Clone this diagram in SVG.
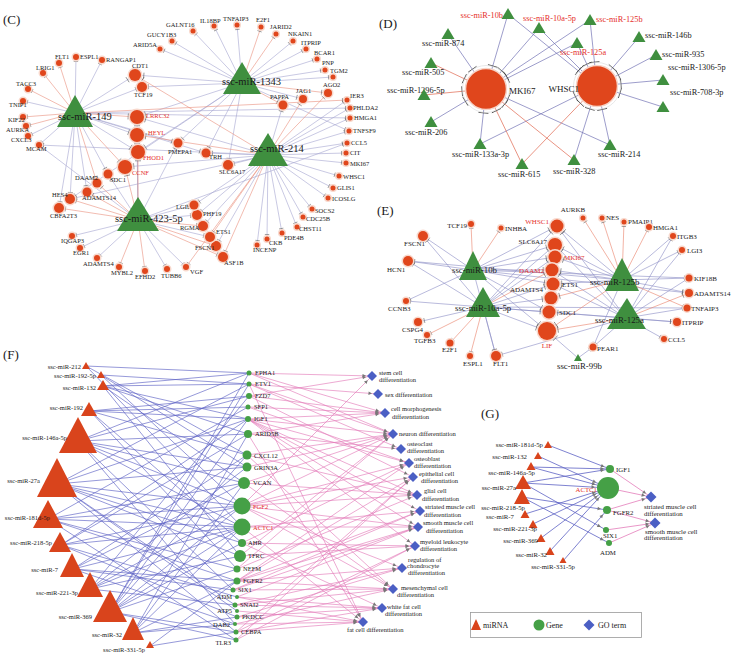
<svg xmlns="http://www.w3.org/2000/svg" width="734" height="658" viewBox="0 0 734 658">
<defs>
<style>
text{font-family:"Liberation Serif","Times New Roman",serif;fill:#1a1a1a}
.pl{font-size:13px}
.c6{font-size:6.5px}
.c10{font-size:10.5px}
.d8{font-size:8.3px}
.d9{font-size:9px}
.e7{font-size:7px}
.e9{font-size:8.8px}
.f6{font-size:6.5px}
.g7{font-size:6.8px}
.lg{font-size:8px}
.rd{fill:#e5302a}
.end{text-anchor:end}
.mid{text-anchor:middle}
.tri{fill:#3f8f3f}
.og circle{fill:#e0461c;stroke:#f8d8cc;stroke-width:3;paint-order:stroke}
.ftri{fill:#d9441c}
.gc circle{fill:#45a046}
.go{fill:#4b5fc4}
.a{marker-end:url(#m3)}
.b{marker-end:url(#m4)}
.c{marker-end:url(#m6)}
.d{marker-end:url(#m9)}
.e{marker-end:url(#m19)}
.pk path{marker-end:url(#fa)}
.gs{marker-end:url(#gs)}
.gl{marker-end:url(#gl)}
</style>
<marker id="m3" markerUnits="userSpaceOnUse" orient="auto" refX="4.5" refY="0" markerWidth="2" markerHeight="6" style="overflow:visible"><path d="M0,-2.2V2.2" stroke="#666" stroke-width=".6" fill="none"/></marker>
<marker id="m4" markerUnits="userSpaceOnUse" orient="auto" refX="6.5" refY="0" markerWidth="2" markerHeight="6" style="overflow:visible"><path d="M0,-2.5V2.5" stroke="#666" stroke-width=".6" fill="none"/></marker>
<marker id="m6" markerUnits="userSpaceOnUse" orient="auto" refX="8.8" refY="0" markerWidth="2" markerHeight="6" style="overflow:visible"><path d="M0,-3V3" stroke="#555" stroke-width=".6" fill="none"/></marker>
<marker id="m9" markerUnits="userSpaceOnUse" orient="auto" refX="11" refY="0" markerWidth="2" markerHeight="6" style="overflow:visible"><path d="M0,-3.5V3.5" stroke="#555" stroke-width=".6" fill="none"/></marker>
<marker id="m19" markerUnits="userSpaceOnUse" orient="auto" refX="24" refY="0" markerWidth="2" markerHeight="10" style="overflow:visible"><path d="M0,-5V5" stroke="#444" stroke-width=".8" fill="none"/></marker>
<marker id="fa" markerUnits="userSpaceOnUse" orient="auto" refX="6" refY="0" markerWidth="4" markerHeight="4" style="overflow:visible"><path d="M-3.5,-1.8L0,0L-3.5,1.8z" fill="#777"/></marker>
<marker id="gs" markerUnits="userSpaceOnUse" orient="auto" refX="6" refY="0" markerWidth="4" markerHeight="4" style="overflow:visible"><path d="M-3.5,-1.8L0,0L-3.5,1.8z" fill="#777"/></marker>
<marker id="gl" markerUnits="userSpaceOnUse" orient="auto" refX="13" refY="0" markerWidth="4" markerHeight="4" style="overflow:visible"><path d="M-3.5,-1.8L0,0L-3.5,1.8z" fill="#777"/></marker>
</defs>
<rect width="734" height="658" fill="#fff"/>

<!-- ================= PANEL C ================= -->
<text class="pl" x="3" y="24">(C)</text>
<g id="c-connectors" fill="none" stroke-width=".6">
<g stroke="#a4a4d0">
<path class="a" d="M242 83L193 31"/><path class="a" d="M242 83L172 41"/><path class="a" d="M242 83L160 49"/><path class="a" d="M242 83L214 26"/><path class="a" d="M242 83L237 25"/><path class="a" d="M242 83L293 41"/><path class="a" d="M242 83L306 49"/><path class="a" d="M242 83L317 59"/><path class="a" d="M242 83L325 70"/><path class="a" d="M242 83L333 77"/><path class="b" d="M242 83L303 99"/><path class="b" d="M242 83L228 165"/><path class="b" d="M242 83L206 153"/><path class="b" d="M242 83L178 143"/><path class="c" d="M242 83L135 75"/><path class="b" d="M242 83L142 87"/><path class="c" d="M242 83L137 117"/><path class="c" d="M242 83L138 152"/><path class="a" d="M242 83L349 131"/><path class="b" d="M242 83L70 199"/>
<path class="b" d="M268 155L283 105"/><path class="a" d="M268 155L347 100"/><path class="a" d="M268 155L350 108"/><path class="a" d="M268 155L350 118"/><path class="a" d="M268 155L349 131"/><path class="a" d="M268 155L347 143"/><path class="a" d="M268 155L346 153"/><path class="a" d="M268 155L346 163"/><path class="a" d="M268 155L339 176"/><path class="a" d="M268 155L333 188"/><path class="a" d="M268 155L328 198"/><path class="a" d="M268 155L312 209"/><path class="a" d="M268 155L303 217"/><path class="a" d="M268 155L297 227"/><path class="a" d="M268 155L282 233"/><path class="a" d="M268 155L267 239"/><path class="a" d="M268 155L257 245"/><path class="b" d="M268 155L216 246"/><path class="b" d="M268 155L203 226"/><path class="b" d="M268 155L197 215"/><path class="b" d="M268 155L194 205"/><path class="b" d="M268 155L228 165"/><path class="b" d="M268 155L206 153"/><path class="c" d="M268 155L137 117"/><path class="c" d="M268 155L125 167"/><path class="b" d="M268 155L70 199"/><path class="a" d="M268 155L39 145"/>
<path class="a" d="M75 113L102 60"/><path class="a" d="M75 113L76 57"/><path class="a" d="M75 113L23 101"/><path class="a" d="M75 113L28 136"/><path class="a" d="M75 113L39 145"/><path class="c" d="M75 113L135 75"/><path class="b" d="M75 113L142 87"/><path class="c" d="M75 113L137 135"/><path class="c" d="M75 113L138 152"/><path class="b" d="M75 113L108 174"/><path class="b" d="M75 113L87 192"/><path class="b" d="M75 113L70 199"/><path class="b" d="M75 113L59 208"/><path class="b" d="M75 113L206 153"/><path class="b" d="M75 113L178 143"/><path class="a" d="M75 113L350 108"/><path class="a" d="M75 113L350 118"/>
<path class="a" d="M138 220L72 236"/><path class="a" d="M138 220L80 248"/><path class="a" d="M138 220L97 258"/><path class="a" d="M138 220L167 269"/><path class="a" d="M138 220L186 267"/><path class="b" d="M138 220L108 174"/><path class="c" d="M138 220L137 135"/><path class="b" d="M138 220L194 205"/><path class="b" d="M138 220L197 215"/><path class="b" d="M138 220L210 237"/><path class="b" d="M138 220L178 143"/><path class="a" d="M138 220L347 143"/><path class="a" d="M138 220L39 145"/><path class="c" d="M138 220L137 117"/>
</g>
<g stroke="#ea8f7c">
<path class="a" d="M242 83L261 27"/><path class="a" d="M242 83L276 34"/><path class="b" d="M242 83L328 93"/><path class="b" d="M242 83L283 105"/>
<path class="b" d="M268 155L328 93"/><path class="b" d="M268 155L303 99"/><path class="b" d="M268 155L223 257"/><path class="b" d="M268 155L210 237"/><path class="c" d="M268 155L135 75"/><path class="c" d="M268 155L137 135"/><path class="a" d="M268 155L186 267"/>
<path class="a" d="M75 113L59 63"/><path class="a" d="M75 113L43 73"/><path class="a" d="M75 113L28 89"/><path class="a" d="M75 113L23 117"/><path class="a" d="M75 113L26 126"/><path class="c" d="M75 113L137 117"/><path class="c" d="M75 113L125 167"/><path class="b" d="M75 113L97 183"/><path class="a" d="M75 113L347 100"/>
<path class="a" d="M138 220L119 267"/><path class="a" d="M138 220L145 271"/><path class="b" d="M138 220L59 208"/><path class="b" d="M138 220L70 199"/><path class="b" d="M138 220L87 192"/><path class="b" d="M138 220L97 183"/><path class="c" d="M138 220L125 167"/><path class="c" d="M138 220L138 152"/><path class="b" d="M138 220L203 226"/><path class="b" d="M138 220L216 246"/><path class="b" d="M138 220L223 257"/>
</g>
</g>
<g id="c-genes" class="og">
<g id="c-GALNT16"><circle cx="193" cy="31" r="2.5"/><text class="c6" x="166" y="27">GALNT16</text></g>
<g id="c-GUCY1B3"><circle cx="172" cy="41" r="2.5"/><text class="c6" x="147" y="37">GUCY1B3</text></g>
<g id="c-ARID5A"><circle cx="160" cy="49" r="2.5"/><text class="c6" x="133" y="47">ARID5A</text></g>
<g id="c-IL18BP"><circle cx="214" cy="26" r="2.5"/><text class="c6" x="200" y="23">IL18BP</text></g>
<g id="c-TNFAIP3"><circle cx="237" cy="25" r="2.5"/><text class="c6" x="223" y="21">TNFAIP3</text></g>
<g id="c-E2F1"><circle cx="261" cy="27" r="2.5"/><text class="c6" x="256" y="22">E2F1</text></g>
<g id="c-JARID2"><circle cx="276" cy="34" r="2.5"/><text class="c6" x="270" y="29">JARID2</text></g>
<g id="c-NKAIN1"><circle cx="293" cy="41" r="2.5"/><text class="c6" x="288" y="36">NKAIN1</text></g>
<g id="c-ITPRIP"><circle cx="306" cy="49" r="2.5"/><text class="c6" x="301" y="45">ITPRIP</text></g>
<g id="c-BCAR1"><circle cx="317" cy="59" r="2.5"/><text class="c6" x="314" y="55">BCAR1</text></g>
<g id="c-PNP"><circle cx="325" cy="70" r="2.5"/><text class="c6" x="322" y="65">PNP</text></g>
<g id="c-TGM2"><circle cx="333" cy="77" r="2.5"/><text class="c6" x="330" y="73">TGM2</text></g>
<g id="c-AGO2"><circle cx="328" cy="93" r="4"/><text class="c6" x="323" y="87">AGO2</text></g>
<g id="c-JAG1"><circle cx="303" cy="99" r="4"/><text class="c6" x="296" y="93">JAG1</text></g>
<g id="c-PAPPA"><circle cx="283" cy="105" r="4.5"/><text class="c6" x="270" y="99">PAPPA</text></g>
<g id="c-IER3"><circle cx="347" cy="100" r="2.5"/><text class="c6" x="350" y="98">IER3</text></g>
<g id="c-PHLDA2"><circle cx="350" cy="108" r="2.5"/><text class="c6" x="353" y="110">PHLDA2</text></g>
<g id="c-HMGA1"><circle cx="350" cy="118" r="2.5"/><text class="c6" x="354" y="120">HMGA1</text></g>
<g id="c-TNFSF9"><circle cx="349" cy="131" r="2.5"/><text class="c6" x="353" y="133">TNFSF9</text></g>
<g id="c-CCL5"><circle cx="347" cy="143" r="2.5"/><text class="c6" x="351" y="145">CCL5</text></g>
<g id="c-CIT"><circle cx="346" cy="153" r="2.5"/><text class="c6" x="350" y="155">CIT</text></g>
<g id="c-MKI67"><circle cx="346" cy="163" r="2.5"/><text class="c6" x="350" y="166">MKI67</text></g>
<g id="c-WHSC1"><circle cx="339" cy="176" r="2.5"/><text class="c6" x="343" y="179">WHSC1</text></g>
<g id="c-GLIS1"><circle cx="333" cy="188" r="2.5"/><text class="c6" x="337" y="190">GLIS1</text></g>
<g id="c-ICOSLG"><circle cx="328" cy="198" r="2.5"/><text class="c6" x="332" y="201">ICOSLG</text></g>
<g id="c-SOCS2"><circle cx="312" cy="209" r="2.5"/><text class="c6" x="315" y="213">SOCS2</text></g>
<g id="c-CDC25B"><circle cx="303" cy="217" r="2.5"/><text class="c6" x="306" y="221">CDC25B</text></g>
<g id="c-CHST11"><circle cx="297" cy="227" r="2.5"/><text class="c6" x="299" y="231">CHST11</text></g>
<g id="c-PDE4B"><circle cx="282" cy="233" r="2.5"/><text class="c6" x="284" y="240">PDE4B</text></g>
<g id="c-CKB"><circle cx="267" cy="239" r="2.5"/><text class="c6" x="269" y="245">CKB</text></g>
<g id="c-INCENP"><circle cx="257" cy="245" r="2.5"/><text class="c6" x="253" y="252">INCENP</text></g>
<g id="c-ASF1B"><circle cx="223" cy="257" r="5"/><text class="c6" x="224" y="265">ASF1B</text></g>
<g id="c-FSCN1"><circle cx="216" cy="246" r="5"/><text class="c6" x="195" y="250">FSCN1</text></g>
<g id="c-ETS1"><circle cx="210" cy="237" r="5"/><text class="c6" x="216" y="234">ETS1</text></g>
<g id="c-RGMA"><circle cx="203" cy="226" r="5"/><text class="c6" x="180" y="230">RGMA</text></g>
<g id="c-PHF19"><circle cx="197" cy="215" r="5"/><text class="c6" x="203" y="216">PHF19</text></g>
<g id="c-LGI3"><text class="c6" x="176" y="209">LGI3</text><circle cx="194" cy="205" r="4.5"/></g>
<g id="c-SLC6A17"><circle cx="228" cy="165" r="5"/><text class="c6" x="219" y="174">SLC6A17</text></g>
<g id="c-TRH"><circle cx="206" cy="153" r="4.5"/><text class="c6" x="209" y="159">TRH</text></g>
<g id="c-PMEPA1"><circle cx="178" cy="143" r="4.5"/><text class="c6" x="168" y="154">PMEPA1</text></g>
<g id="c-RANGAP1"><circle cx="102" cy="60" r="3"/><text class="c6" x="106" y="62">RANGAP1</text></g>
<g id="c-ESPL1"><circle cx="76" cy="57" r="3"/><text class="c6" x="80" y="59">ESPL1</text></g>
<g id="c-FLT1"><circle cx="59" cy="63" r="3"/><text class="c6" x="55" y="59">FLT1</text></g>
<g id="c-LRIG1"><circle cx="43" cy="73" r="3"/><text class="c6" x="36" y="70">LRIG1</text></g>
<g id="c-TACC3"><circle cx="28" cy="89" r="3"/><text class="c6" x="16" y="86">TACC3</text></g>
<g id="c-TNIP1"><circle cx="23" cy="101" r="3"/><text class="c6" x="9" y="107">TNIP1</text></g>
<g id="c-KIF22"><circle cx="23" cy="117" r="3"/><text class="c6" x="8" y="122">KIF22</text></g>
<g id="c-AURKA"><circle cx="26" cy="126" r="3"/><text class="c6" x="6" y="132">AURKA</text></g>
<g id="c-CXCL3"><circle cx="28" cy="136" r="3"/><text class="c6" x="11" y="142">CXCL3</text></g>
<g id="c-MCAM"><circle cx="39" cy="145" r="3"/><text class="c6" x="26" y="151">MCAM</text></g>
<g id="c-CDT1"><circle cx="135" cy="75" r="6"/><text class="c6" x="132" y="68">CDT1</text></g>
<g id="c-TCF19"><circle cx="142" cy="87" r="5"/><text class="c6" x="134" y="97">TCF19</text></g>
<g id="c-LRRC32"><circle cx="137" cy="117" r="7"/><text class="c6 rd" x="146" y="118">LRRC32</text></g>
<g id="c-HEYL"><circle cx="137" cy="135" r="7"/><text class="c6 rd" x="148" y="135">HEYL</text></g>
<g id="c-FHOD1"><circle cx="138" cy="152" r="7"/><text class="c6 rd" x="143" y="160">FHOD1</text></g>
<g id="c-CCNF"><circle cx="125" cy="167" r="7"/><text class="c6 rd" x="132" y="175">CCNF</text></g>
<g id="c-SDC1"><circle cx="108" cy="174" r="4.5"/><text class="c6" x="110" y="182">SDC1</text></g>
<g id="c-DAAM2"><circle cx="97" cy="183" r="4.5"/><text class="c6" x="75" y="180">DAAM2</text></g>
<g id="c-ADAMTS14"><circle cx="87" cy="192" r="4.5"/><text class="c6" x="82" y="200">ADAMTS14</text></g>
<g id="c-HES4"><circle cx="70" cy="199" r="5"/><text class="c6" x="52" y="197">HES4</text></g>
<g id="c-CBFA2T3"><circle cx="59" cy="208" r="5"/><text class="c6" x="50" y="218">CBFA2T3</text></g>
<g id="c-IQGAP3"><circle cx="72" cy="236" r="3"/><text class="c6" x="61" y="243">IQGAP3</text></g>
<g id="c-EGR1"><circle cx="80" cy="248" r="3"/><text class="c6" x="73" y="255">EGR1</text></g>
<g id="c-ADAMTS4"><circle cx="97" cy="258" r="3"/><text class="c6" x="83" y="266">ADAMTS4</text></g>
<g id="c-MYBL2"><circle cx="119" cy="267" r="3"/><text class="c6" x="111" y="275">MYBL2</text></g>
<g id="c-EFHD2"><circle cx="145" cy="271" r="3"/><text class="c6" x="135" y="279">EFHD2</text></g>
<g id="c-TUBB6"><circle cx="167" cy="269" r="3"/><text class="c6" x="161" y="278">TUBB6</text></g>
<g id="c-VGF"><circle cx="186" cy="267" r="3"/><text class="c6" x="190" y="274">VGF</text></g>
</g>
<g id="c-mir149"><polygon class="tri" points="75,95 57,127 93,127"/><text class="c10" x="58" y="120">ssc-miR-149</text></g>
<g id="c-mir1343"><polygon class="tri" points="242,62 223,94 261,94"/><text class="c10" x="222" y="85">ssc-miR-1343</text></g>
<g id="c-mir214"><polygon class="tri" points="268,133 248,166 288,166"/><text class="c10" x="250" y="152">ssc-miR-214</text></g>
<g id="c-mir423"><polygon class="tri" points="138,197 117,231 159,231"/><text class="c10" x="115" y="222">ssc-miR-423-5p</text></g>

<!-- ================= PANEL D ================= -->
<text class="pl" x="379" y="28">(D)</text>
<g id="d-connectors" fill="none" stroke-width=".7">
<g stroke="#7272b4">
<path class="e" d="M508 14L486 89"/><path class="e" d="M508 14L597 86"/>
<path class="e" d="M539 28L486 89"/><path class="e" d="M539 28L597 86"/>
<path class="e" d="M590 20L486 89"/><path class="e" d="M590 20L597 86"/>
<path class="e" d="M577 43L486 89"/><path class="e" d="M577 43L597 86"/>
<path class="e" d="M639 37L597 86"/><path class="e" d="M656 55L597 86"/><path class="e" d="M663 80L597 86"/><path class="e" d="M663 107L597 86"/>
<path class="e" d="M448 34L486 89"/><path class="e" d="M431 122L486 89"/>
<path class="e" d="M480 144L486 89"/><path class="e" d="M480 144L597 86"/>
<path class="e" d="M574 160L597 86"/>
<path class="e" d="M610 145L486 89"/><path class="e" d="M610 145L597 86"/>
</g>
<g stroke="#e0664e">
<path class="e" d="M431 63L486 89"/><path class="e" d="M424 95L486 89"/>
<path class="e" d="M522 164L486 89"/><path class="e" d="M522 164L597 86"/>
<path class="e" d="M574 160L486 89"/>
</g>
</g>
<g id="d-MKI67"><circle cx="486" cy="89" r="23.5" fill="none" stroke="#d8d8d8" stroke-width=".6"/><circle cx="486" cy="89" r="20.5" fill="#e0461c" stroke="#f6d4c8" stroke-width="1.5"/><text class="d9" x="509" y="94">MKI67</text></g>
<g id="d-WHSC1"><circle cx="597" cy="86" r="23.5" fill="none" stroke="#d8d8d8" stroke-width=".6"/><circle cx="597" cy="86" r="20.5" fill="#e0461c" stroke="#f6d4c8" stroke-width="1.5"/><text class="d9 end" x="579" y="92">WHSC1</text></g>
<g id="d-mir10b"><text class="d8 rd end" x="503" y="18">ssc-miR-10b</text><polygon class="tri" points="508,8 501.5,19 514.5,19"/></g>
<g id="d-mir10a5p"><polygon class="tri" points="539,22 532.5,33 545.5,33"/><text class="d8 rd" x="523" y="21">ssc-miR-10a-5p</text></g>
<g id="d-mir125b"><polygon class="tri" points="590,14 583.5,25 596.5,25"/><text class="d8 rd" x="596" y="22">ssc-miR-125b</text></g>
<g id="d-mir125a"><polygon class="tri" points="577,37 570.5,48 583.5,48"/><text class="d8 rd" x="560" y="55">ssc-miR-125a</text></g>
<g id="d-mir146b"><polygon class="tri" points="639,31 632.5,42 645.5,42"/><text class="d8" x="645" y="38">ssc-miR-146b</text></g>
<g id="d-mir935"><polygon class="tri" points="656,49 649.5,60 662.5,60"/><text class="d8" x="662" y="57">ssc-miR-935</text></g>
<g id="d-mir1306"><polygon class="tri" points="663,74 656.5,85 669.5,85"/><text class="d8" x="668" y="70">ssc-miR-1306-5p</text></g>
<g id="d-mir708"><polygon class="tri" points="663,101 656.5,112 669.5,112"/><text class="d8" x="670" y="95">ssc-miR-708-3p</text></g>
<g id="d-mir874"><polygon class="tri" points="448,28 441.5,39 454.5,39"/><text class="d8" x="422" y="46">ssc-miR-874</text></g>
<g id="d-mir505"><polygon class="tri" points="431,57 424.5,68 437.5,68"/><text class="d8" x="402" y="75">ssc-miR-505</text></g>
<g id="d-mir1296"><text class="d8" x="387" y="93">ssc-miR-1296-5p</text><polygon class="tri" points="424,89 417.5,100 430.5,100"/></g>
<g id="d-mir206"><polygon class="tri" points="431,116 424.5,127 437.5,127"/><text class="d8" x="405" y="135">ssc-miR-206</text></g>
<g id="d-mir133a"><polygon class="tri" points="480,138 473.5,149 486.5,149"/><text class="d8" x="452" y="157">ssc-miR-133a-3p</text></g>
<g id="d-mir615"><polygon class="tri" points="522,158 515.5,169 528.5,169"/><text class="d8" x="498" y="177">ssc-miR-615</text></g>
<g id="d-mir328"><polygon class="tri" points="574,154 567.5,165 580.5,165"/><text class="d8" x="553" y="174">ssc-miR-328</text></g>
<g id="d-mir214"><polygon class="tri" points="610,139 603.5,150 616.5,150"/><text class="d8" x="598" y="157">ssc-miR-214</text></g>

<!-- ================= PANEL E ================= -->
<text class="pl" x="377" y="215">(E)</text>
<g id="e-connectors" fill="none" stroke-width=".6">
<g stroke="#8a8cc4">
<path class="b" d="M473 270L423 236"/><path class="b" d="M473 270L408 261"/><path class="c" d="M473 270L557 226"/><path class="c" d="M473 270L555 245"/><path class="c" d="M473 270L555 257"/><path class="c" d="M473 270L552 270"/><path class="c" d="M473 270L553 284"/><path class="c" d="M473 270L549 312"/><path class="d" d="M473 270L547 331"/><path class="a" d="M473 270L689 278"/><path class="a" d="M473 270L406 301"/><path class="b" d="M473 270L496 356"/><path class="b" d="M473 270L689 293"/>
<path class="a" d="M483 307L406 301"/><path class="b" d="M483 307L418 322"/><path class="b" d="M483 307L496 356"/><path class="d" d="M483 307L547 331"/><path class="c" d="M483 307L549 312"/><path class="c" d="M483 307L551 298"/><path class="c" d="M483 307L553 284"/><path class="c" d="M483 307L555 257"/><path class="c" d="M483 307L555 245"/><path class="c" d="M483 307L557 226"/><path class="b" d="M483 307L408 261"/><path class="b" d="M483 307L423 236"/><path class="a" d="M483 307L687 308"/><path class="b" d="M483 307L677 322"/>
<path class="a" d="M622 280L673 236"/><path class="a" d="M622 280L682 250"/><path class="a" d="M622 280L689 278"/><path class="b" d="M622 280L689 293"/><path class="c" d="M622 280L557 226"/><path class="c" d="M622 280L555 245"/><path class="c" d="M622 280L555 257"/><path class="c" d="M622 280L552 270"/><path class="c" d="M622 280L553 284"/><path class="b" d="M622 280L408 261"/><path class="a" d="M622 280L593 347"/>
<path class="a" d="M626 318L673 236"/><path class="a" d="M626 318L682 250"/><path class="a" d="M626 318L689 278"/><path class="a" d="M626 318L687 308"/><path class="b" d="M626 318L677 322"/><path class="a" d="M626 318L664 339"/><path class="a" d="M626 318L593 347"/><path class="c" d="M626 318L549 312"/><path class="c" d="M626 318L553 284"/><path class="c" d="M626 318L557 226"/><path class="c" d="M626 318L555 245"/><path class="c" d="M626 318L552 270"/><path class="b" d="M626 318L496 356"/>
<path class="a" d="M578 358L593 347"/><path class="d" d="M578 358L547 331"/>
</g>
<g stroke="#e98068">
<path class="a" d="M473 270L471 224"/><path class="a" d="M473 270L501 228"/>
<path class="a" d="M483 307L427 335"/><path class="a" d="M483 307L450 343"/><path class="a" d="M483 307L470 356"/><path class="c" d="M483 307L552 270"/>
<path class="a" d="M622 280L583 218"/><path class="a" d="M622 280L602 218"/><path class="a" d="M622 280L624 222"/><path class="a" d="M622 280L649 227"/><path class="a" d="M622 280L687 308"/><path class="c" d="M622 280L551 298"/><path class="d" d="M622 280L547 331"/>
<path class="b" d="M626 318L689 293"/><path class="d" d="M626 318L547 331"/>
</g>
</g>
<g id="e-genes" class="og">
<g id="e-WHSC1"><circle cx="557" cy="226" r="6.5"/><text class="e7 rd end" x="549" y="224">WHSC1</text></g>
<g id="e-SLC6A17"><circle cx="555" cy="245" r="7"/><text class="e7 end" x="547" y="244">SLC6A17</text></g>
<g id="e-MKI67"><circle cx="555" cy="257" r="6.5"/><text class="e7 rd" x="564" y="260">MKI67</text></g>
<g id="e-DAAM2"><circle cx="552" cy="270" r="6.5"/><text class="e7 rd end" x="544" y="273">DAAM2</text></g>
<g id="e-ETS1"><circle cx="553" cy="284" r="6.5"/><text class="e7" x="562" y="287">ETS1</text></g>
<g id="e-ADAMTS4"><circle cx="551" cy="298" r="6.5"/><text class="e7 end" x="543" y="292">ADAMTS4</text></g>
<g id="e-SDC1"><circle cx="549" cy="312" r="6.5"/><text class="e7" x="559" y="315">SDC1</text></g>
<g id="e-LIF"><circle cx="547" cy="331" r="9"/><text class="e7 rd mid" x="547" y="348">LIF</text></g>
<g id="e-AURKB"><circle cx="583" cy="218" r="2.5"/><text class="e7 mid" x="573" y="212">AURKB</text></g>
<g id="e-NES"><circle cx="602" cy="218" r="2.5"/><text class="e7" x="606" y="220">NES</text></g>
<g id="e-PMAIP1"><circle cx="624" cy="222" r="2.5"/><text class="e7" x="628" y="224">PMAIP1</text></g>
<g id="e-HMGA1"><circle cx="649" cy="227" r="3"/><text class="e7" x="653" y="230">HMGA1</text></g>
<g id="e-ITGB3"><circle cx="673" cy="236" r="3"/><text class="e7" x="677" y="239">ITGB3</text></g>
<g id="e-LGI3"><circle cx="682" cy="250" r="3"/><text class="e7" x="687" y="253">LGI3</text></g>
<g id="e-KIF18B"><circle cx="689" cy="278" r="3.5"/><text class="e7" x="694" y="281">KIF18B</text></g>
<g id="e-ADAMTS14"><circle cx="689" cy="293" r="4"/><text class="e7" x="694" y="296">ADAMTS14</text></g>
<g id="e-TNFAIP3"><circle cx="687" cy="308" r="3.5"/><text class="e7" x="691" y="311">TNFAIP3</text></g>
<g id="e-ITPRIP"><circle cx="677" cy="322" r="4"/><text class="e7" x="682" y="325">ITPRIP</text></g>
<g id="e-CCL5"><circle cx="664" cy="339" r="3"/><text class="e7" x="668" y="342">CCL5</text></g>
<g id="e-PEAR1"><circle cx="593" cy="347" r="3.5"/><text class="e7" x="597" y="351">PEAR1</text></g>
<g id="e-TCF19"><circle cx="471" cy="224" r="3"/><text class="e7 end" x="467" y="228">TCF19</text></g>
<g id="e-INHBA"><circle cx="501" cy="228" r="2.5"/><text class="e7" x="505" y="231">INHBA</text></g>
<g id="e-FSCN1"><circle cx="423" cy="236" r="5"/><text class="e7" x="404" y="246">FSCN1</text></g>
<g id="e-HCN1"><circle cx="408" cy="261" r="5"/><text class="e7" x="387" y="272">HCN1</text></g>
<g id="e-CCNB3"><circle cx="406" cy="301" r="3"/><text class="e7" x="388" y="311">CCNB3</text></g>
<g id="e-CSPG4"><circle cx="418" cy="322" r="4"/><text class="e7" x="402" y="332">CSPG4</text></g>
<g id="e-TGFB3"><circle cx="427" cy="335" r="3"/><text class="e7" x="414" y="343">TGFB3</text></g>
<g id="e-E2F1"><circle cx="450" cy="343" r="3.5"/><text class="e7" x="442" y="352">E2F1</text></g>
<g id="e-ESPL1"><circle cx="470" cy="356" r="3"/><text class="e7" x="463" y="366">ESPL1</text></g>
<g id="e-FLT1"><circle cx="496" cy="356" r="5"/><text class="e7" x="493" y="366">FLT1</text></g>
</g>
<g id="e-mir10b"><polygon class="tri" points="473,251 459,280 487,280"/><text class="e9" x="452" y="273">ssc-miR-10b</text></g>
<g id="e-mir10a5p"><polygon class="tri" points="483,287 466,317 500,317"/><text class="e9" x="455" y="311">ssc-miR-10a-5p</text></g>
<g id="e-mir125b"><polygon class="tri" points="622,258 605,291 639,291"/><text class="e9" x="590" y="285">ssc-miR-125b</text></g>
<g id="e-mir125a"><polygon class="tri" points="627,298 607,329 646,329"/><text class="e9" x="595" y="323">ssc-miR-125a</text></g>
<g id="e-mir99b"><polygon class="tri" points="578,354 574,361 582,361"/><text class="e9" x="557" y="369">ssc-miR-99b</text></g>

<!-- ================= PANEL F ================= -->
<text class="pl" x="3" y="359">(F)</text>
<g id="f-connectors" fill="none" stroke-width=".65">
<g stroke="#5d62c4">
<path d="M86 366L249 373M86 366L247 455M86 366L242 527"/>
<path d="M101 375L249 384M101 375L247 467M101 375L242 506"/>
<path d="M103 386L249 373M103 386L249 384M103 386L248 434M103 386L248 419M103 386L244 483M103 386L240 556"/>
<path d="M90 411L249 396M90 411L248 407M90 411L248 419M90 411L247 455M90 411L237 569M90 411L242 543"/>
<path d="M78 441L249 373M78 441L249 396M78 441L248 434M78 441L244 483M78 441L242 506M78 441L242 527M78 441L233 590M78 441L235 624M78 441L247 467"/>
<path d="M57 484L249 384M57 484L248 419M57 484L247 467M57 484L242 506M57 484L242 527M57 484L242 543M57 484L240 556M57 484L235 605M57 484L237 611M57 484L236 632"/>
<path d="M48 519L248 407M48 519L244 483M48 519L242 506M48 519L242 527M48 519L237 569M48 519L237 581M48 519L236 640"/>
<path d="M61 545L248 419M61 545L248 434M61 545L242 506M61 545L242 527M61 545L237 597M61 545L237 617"/>
<path d="M73 569L247 455M73 569L244 483M73 569L242 527M73 569L237 581M73 569L233 590M73 569L235 624"/>
<path d="M90 589L249 396M90 589L247 467M90 589L242 506M90 589L242 527M90 589L240 556M90 589L235 605"/>
<path d="M110 612L249 373M110 612L249 384M110 612L248 419M110 612L247 455M110 612L242 506M110 612L242 527M110 612L242 543M110 612L237 569M110 612L236 632M110 612L236 640"/>
<path d="M133 633L248 434M133 633L244 483M133 633L242 527M133 633L237 581M133 633L237 617M133 633L235 624"/>
<path d="M150 646L237 581M150 646L236 632"/>
</g>
<g stroke="#e37cba" class="pk">
<path d="M249 373L372 376"/><path d="M249 373L385 413"/><path d="M249 373L393 434"/>
<path d="M249 384L378 394"/><path d="M249 384L393 434"/><path d="M249 384L401 449"/><path d="M249 384L363 622"/>
<path d="M249 396L372 376"/><path d="M249 396L385 413"/><path d="M249 396L413 477"/>
<path d="M248 407L385 413"/><path d="M248 407L409 463"/>
<path d="M248 419L385 413"/><path d="M248 419L393 434"/><path d="M248 419L409 463"/><path d="M248 419L417 495"/><path d="M248 419L420 511"/><path d="M248 419L418 527"/><path d="M248 419L415 546"/>
<path d="M248 434L401 449"/><path d="M248 434L385 413"/><path d="M248 434L363 622"/>
<path d="M247 455L393 434"/><path d="M247 455L417 495"/><path d="M247 455L393 589"/>
<path d="M247 467L393 434"/>
<path d="M244 483L393 434"/><path d="M244 483L417 495"/><path d="M244 483L393 589"/>
<path d="M242 506L372 376"/><path d="M242 506L393 434"/><path d="M242 506L409 463"/><path d="M242 506L413 477"/><path d="M242 506L417 495"/><path d="M242 506L418 527"/><path d="M242 506L402 568"/><path d="M242 506L393 589"/>
<path d="M242 527L420 511"/><path d="M242 527L418 527"/><path d="M242 527L363 622"/>
<path d="M242 543L409 463"/><path d="M242 543L415 546"/><path d="M242 543L382 608"/>
<path d="M240 556L393 434"/><path d="M240 556L415 546"/>
<path d="M237 569L393 434"/><path d="M237 569L417 495"/>
<path d="M237 581L409 463"/><path d="M237 581L413 477"/><path d="M237 581L418 527"/><path d="M237 581L420 511"/><path d="M237 581L393 589"/><path d="M237 581L402 568"/>
<path d="M233 590L420 511"/><path d="M233 590L418 527"/><path d="M233 590L393 589"/>
<path d="M237 597L418 527"/><path d="M237 597L382 608"/><path d="M237 597L363 622"/>
<path d="M235 605L393 589"/><path d="M235 605L382 608"/><path d="M235 605L402 568"/>
<path d="M237 611L363 622"/>
<path d="M237 617L402 568"/><path d="M237 617L382 608"/>
<path d="M235 624L363 622"/><path d="M235 624L393 589"/>
<path d="M236 632L415 546"/><path d="M236 632L382 608"/><path d="M236 632L363 622"/><path d="M236 632L413 477"/>
<path d="M236 640L415 546"/><path d="M236 640L413 477"/>
</g>
</g>
<g id="f-mirnas">
<g id="f-mir212"><polygon class="ftri" points="86,362 82,369 90,369"/><text class="f6 end" x="81" y="369">ssc-miR-212</text></g>
<g id="f-mir192-5p"><polygon class="ftri" points="101,371 97,378 105,378"/><text class="f6 end" x="96" y="378">ssc-miR-192-5p</text></g>
<g id="f-mir132"><polygon class="ftri" points="103,380 97,390 109,390"/><text class="f6 end" x="96" y="390">ssc-miR-132</text></g>
<g id="f-mir192"><polygon class="ftri" points="89,402 81,416 97,416"/><text class="f6 end" x="83" y="410">ssc-miR-192</text></g>
<g id="f-mir146a"><polygon class="ftri" points="78,417 59,453 97,453"/><text class="f6 end" x="67" y="440">ssc-miR-146a-5p</text></g>
<g id="f-mir27a"><polygon class="ftri" points="57,458 37,497 77,497"/><text class="f6 end" x="40" y="483">ssc-miR-27a</text></g>
<g id="f-mir181d"><polygon class="ftri" points="48,500 33,528 63,528"/><text class="f6 end" x="50" y="520">ssc-miR-181d-5p</text></g>
<g id="f-mir218"><polygon class="ftri" points="60,532 49,552 71,552"/><text class="f6 end" x="52" y="545">ssc-miR-218-5p</text></g>
<g id="f-mir7"><polygon class="ftri" points="72,553 60,577 84,577"/><text class="f6 end" x="58" y="572">ssc-miR-7</text></g>
<g id="f-mir221"><polygon class="ftri" points="90,572 77,597 103,597"/><text class="f6 end" x="78" y="595">ssc-miR-221-3p</text></g>
<g id="f-mir369"><polygon class="ftri" points="110,590 93,622 127,622"/><text class="f6 end" x="92" y="619">ssc-miR-369</text></g>
<g id="f-mir32"><polygon class="ftri" points="133,617 122,640 144,640"/><text class="f6 end" x="122" y="637">ssc-miR-32</text></g>
<g id="f-mir331"><polygon class="ftri" points="150,641 146,648 154,648"/><text class="f6 end" x="145" y="652">ssc-miR-331-5p</text></g>
</g>
<g id="f-genes" class="gc">
<g id="f-EPHA1"><circle cx="249" cy="373" r="2.5"/><text class="f6" x="255" y="375">EPHA1</text></g>
<g id="f-ETV1"><circle cx="249" cy="384" r="2.5"/><text class="f6" x="255" y="386">ETV1</text></g>
<g id="f-FZD7"><circle cx="249" cy="396" r="3"/><text class="f6" x="255" y="398">FZD7</text></g>
<g id="f-SFP1"><circle cx="248" cy="407" r="2.5"/><text class="f6" x="254" y="409">SFP1</text></g>
<g id="f-IGF1"><circle cx="248" cy="419" r="3"/><text class="f6" x="254" y="421">IGF1</text></g>
<g id="f-ARID5B"><circle cx="248" cy="434" r="4"/><text class="f6" x="255" y="436">ARID5B</text></g>
<g id="f-CXCL12"><circle cx="247" cy="455" r="4.5"/><text class="f6" x="254" y="458">CXCL12</text></g>
<g id="f-GRIN3A"><circle cx="247" cy="467" r="4.5"/><text class="f6" x="254" y="470">GRIN3A</text></g>
<g id="f-VCAN"><circle cx="244" cy="483" r="6"/><text class="f6" x="253" y="485">VCAN</text></g>
<g id="f-FGF2"><circle cx="242" cy="506" r="8.5"/><text class="f6 rd" x="253" y="509">FGF2</text></g>
<g id="f-ACTC1"><circle cx="242" cy="527" r="8.5"/><text class="f6 rd" x="253" y="530">ACTC1</text></g>
<g id="f-AHR"><circle cx="242" cy="543" r="4"/><text class="f6" x="248" y="545">AHR</text></g>
<g id="f-TFRC"><circle cx="240" cy="556" r="6"/><text class="f6" x="248" y="558">TFRC</text></g>
<g id="f-NEFM"><circle cx="237" cy="569" r="3.5"/><text class="f6" x="243" y="571">NEFM</text></g>
<g id="f-FGFR2"><circle cx="237" cy="581" r="3.5"/><text class="f6" x="243" y="583">FGFR2</text></g>
<g id="f-SIX1"><circle cx="233" cy="590" r="2.5"/><text class="f6" x="238" y="592">SIX1</text></g>
<g id="f-ADM"><circle cx="237" cy="597" r="2"/><text class="f6 end" x="232" y="599">ADM</text></g>
<g id="f-SNAI2"><circle cx="235" cy="605" r="2.5"/><text class="f6" x="240" y="607">SNAI2</text></g>
<g id="f-ATP5"><circle cx="237" cy="611" r="2"/><text class="f6 end" x="232" y="613">ATP5</text></g>
<g id="f-PKDCC"><circle cx="237" cy="617" r="2.5"/><text class="f6" x="242" y="619">PKDCC</text></g>
<g id="f-DAB2"><circle cx="235" cy="624" r="2"/><text class="f6 end" x="230" y="627">DAB2</text></g>
<g id="f-CEBPA"><circle cx="236" cy="632" r="2.5"/><text class="f6" x="241" y="634">CEBPA</text></g>
<g id="f-TLR3"><circle cx="236" cy="640" r="2.5"/><text class="f6 end" x="231" y="645">TLR3</text></g>
</g>
<g id="f-goterms">
<g id="f-go-stem"><polygon class="go" points="372,371 377,376 372,381 367,376"/><text class="f6" x="379" y="375">stem cell</text><text class="f6" x="379" y="382">differentiation</text></g>
<g id="f-go-sex"><polygon class="go" points="378,389 383,394 378,399 373,394"/><text class="f6" x="385" y="397">sex differentiation</text></g>
<g id="f-go-morph"><polygon class="go" points="385,408 390,413 385,418 380,413"/><text class="f6" x="391" y="411">cell morphogenesis</text><text class="f6" x="392" y="419">differentiation</text></g>
<g id="f-go-neuron"><polygon class="go" points="393,429 398,434 393,439 388,434"/><text class="f6" x="399" y="436">neuron differentiation</text></g>
<g id="f-go-osteoclast"><polygon class="go" points="401,444 406,449 401,454 396,449"/><text class="f6" x="407" y="446">osteoclast</text><text class="f6" x="407" y="453">differentiation</text></g>
<g id="f-go-osteoblast"><polygon class="go" points="409,458 414,463 409,468 404,463"/><text class="f6" x="414" y="461">osteoblast</text><text class="f6" x="414" y="468">differentiation</text></g>
<g id="f-go-epith"><polygon class="go" points="413,472 418,477 413,482 408,477"/><text class="f6" x="419" y="476">epithelial cell</text><text class="f6" x="421" y="483">differentiation</text></g>
<g id="f-go-glial"><polygon class="go" points="417,490 422,495 417,500 412,495"/><text class="f6" x="424" y="493">glial cell</text><text class="f6" x="422" y="501">differentiation</text></g>
<g id="f-go-striated"><polygon class="go" points="420,506 425,511 420,516 415,511"/><text class="f6" x="425" y="509">striated muscle cell</text><text class="f6" x="424" y="517">differentiation</text></g>
<g id="f-go-smooth"><polygon class="go" points="418,522 423,527 418,532 413,527"/><text class="f6" x="423" y="525">smooth muscle cell</text><text class="f6" x="426" y="533">differentiation</text></g>
<g id="f-go-myeloid"><polygon class="go" points="415,541 420,546 415,551 410,546"/><text class="f6" x="420" y="544">myeloid leukocyte</text><text class="f6" x="420" y="551">differentiation</text></g>
<g id="f-go-chondro"><polygon class="go" points="402,563 407,568 402,573 397,568"/><text class="f6" x="408" y="562">regulation of</text><text class="f6" x="407" y="568">chondrocyte</text><text class="f6" x="408" y="575">differentiation</text></g>
<g id="f-go-mesench"><polygon class="go" points="393,584 398,589 393,594 388,589"/><text class="f6" x="401" y="590">mesenchymal cell</text><text class="f6" x="397" y="597">differentiation</text></g>
<g id="f-go-whitefat"><polygon class="go" points="382,603 387,608 382,613 377,608"/><text class="f6" x="387" y="609">white fat cell</text><text class="f6" x="385" y="616">differentiation</text></g>
<g id="f-go-fat"><polygon class="go" points="363,617 368,622 363,627 358,622"/><text class="f6" x="347" y="632">fat cell differentiation</text></g>
</g>

<!-- ================= PANEL G ================= -->
<text class="pl" x="481" y="418">(G)</text>
<g id="g-connectors" fill="none" stroke-width=".8">
<g stroke="#5d62c4">
<path class="gs" d="M548 445L610 469"/><path class="gl" d="M538 456L608 488"/><path class="gl" d="M531 467L608 488"/><path class="gs" d="M531 467L610 469"/>
<path class="gs" d="M523 483L610 469"/><path class="gs" d="M523 483L606 530"/><path class="gl" d="M523 483L608 488"/>
<path class="gs" d="M522 497L607 510"/><path class="gs" d="M522 497L609 543"/>
<path class="gl" d="M525 514L608 488"/><path class="gl" d="M533 524L608 488"/><path class="gl" d="M541 538L608 488"/><path class="gl" d="M550 551L608 488"/><path class="gs" d="M563 561L607 510"/>
</g>
<g stroke="#e37cba" class="pk">
<path d="M610 469L651 497"/><path d="M608 488L651 497"/><path d="M607 510L651 497"/><path d="M607 510L655 523"/><path d="M606 530L655 523"/><path d="M609 543L655 523"/>
</g>
</g>
<g id="g-mirnas">
<g id="g-mir181d"><polygon class="ftri" points="548,441 544,448 552,448"/><text class="g7 end" x="543" y="447">ssc-miR-181d-5p</text></g>
<g id="g-mir132"><polygon class="ftri" points="538,452 534,459 542,459"/><text class="g7 end" x="527" y="459">ssc-miR-132</text></g>
<g id="g-mir146a"><polygon class="ftri" points="531,462 526.5,470 535.5,470"/><text class="g7 end" x="535" y="475">ssc-miR-146a-5p</text></g>
<g id="g-mir27a"><polygon class="ftri" points="523,475 515,489 531,489"/><text class="g7 end" x="516" y="490">ssc-miR-27a</text></g>
<g id="g-mir218"><polygon class="ftri" points="522,489 514,504 530,504"/><text class="g7 end" x="525" y="510">ssc-miR-218-5p</text></g>
<g id="g-mir7"><polygon class="ftri" points="525,510 520.5,518 529.5,518"/><text class="g7 end" x="514" y="519">ssc-miR-7</text></g>
<g id="g-mir221"><polygon class="ftri" points="533,520 528.5,528 537.5,528"/><text class="g7 end" x="537" y="531">ssc-miR-221-3p</text></g>
<g id="g-mir369"><polygon class="ftri" points="541,534 536.5,542 545.5,542"/><text class="g7 end" x="538" y="543">ssc-miR-369</text></g>
<g id="g-mir32"><polygon class="ftri" points="550,547 545.5,555 554.5,555"/><text class="g7 end" x="547" y="557">ssc-miR-32</text></g>
<g id="g-mir331"><polygon class="ftri" points="563,557 559.5,563 566.5,563"/><text class="g7 end" x="575" y="569">ssc-miR-331-5p</text></g>
</g>
<g id="g-genes" class="gc">
<g id="g-IGF1"><circle cx="610" cy="469" r="4"/><text class="g7" x="616" y="472">IGF1</text></g>
<g id="g-ACTC1"><circle cx="608" cy="488" r="11"/><text class="g7 rd end" x="597" y="492">ACTC1</text></g>
<g id="g-FGFR2"><circle cx="607" cy="510" r="4"/><text class="g7" x="613" y="515">FGFR2</text></g>
<g id="g-SIX1"><circle cx="606" cy="530" r="3"/><text class="g7" x="603" y="538">SIX1</text></g>
<g id="g-ADM"><circle cx="609" cy="543" r="3"/><text class="g7" x="600" y="555">ADM</text></g>
</g>
<g id="g-goterms">
<g id="g-go-striated"><polygon class="go" points="651,491.5 656.5,497 651,502.5 645.5,497"/><text class="g7" x="644" y="509">striated muscle cell</text><text class="g7" x="644" y="516">differentiation</text></g>
<g id="g-go-smooth"><polygon class="go" points="655,517.5 660.5,523 655,528.5 649.5,523"/><text class="g7" x="645" y="534">smooth muscle cell</text><text class="g7" x="644" y="540">differentiation</text></g>
</g>

<!-- ================= LEGEND ================= -->
<g id="legend">
<rect x="470.5" y="612.5" width="171" height="25" fill="#fff" stroke="#999" stroke-width=".8"/>
<polygon class="ftri" points="476,619 481,630 471,630"/><text class="lg" x="483" y="628">miRNA</text>
<circle cx="539" cy="625" r="5.5" fill="#45a046"/><text class="lg" x="546" y="628">Gene</text>
<polygon class="go" points="589,619.5 594.5,625 589,630.5 583.5,625"/><text class="lg" x="598" y="628">GO term</text>
</g>
</svg>
